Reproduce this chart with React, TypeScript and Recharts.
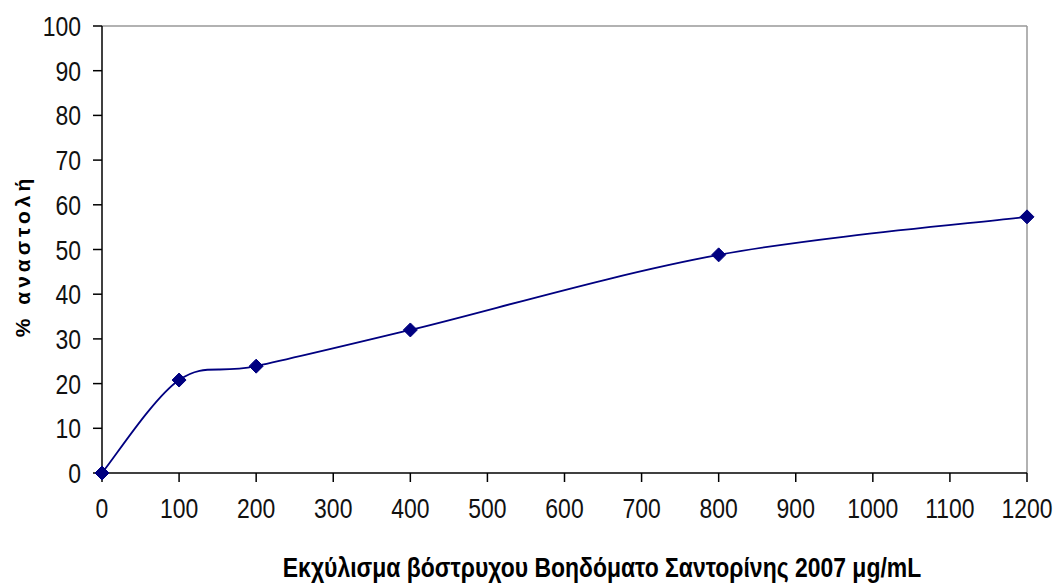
import React from 'react'
import { LineChart, Line, XAxis, YAxis, ReferenceLine, Label } from 'recharts'

const doses = [0, 100, 200, 400, 800, 1200]
const inhibition = [0, 20.8, 23.9, 32.0, 48.8, 57.3]
const xTicks = [0, 100, 200, 300, 400, 500, 600, 700, 800, 900, 1000, 1100, 1200]
const yTicks = [0, 10, 20, 30, 40, 50, 60, 70, 80, 90, 100]

const xTitle = 'Εκχύλισμα βόστρυχου Βοηδόματο Σαντορίνης 2007 μg/mL'
const yTitle = '% αναστολή'

const data = doses.map((d, i) => ({ dose: d, value: inhibition[i] }))

// no narrow font installed, so squeeze Liberation Sans instead
const FONT = '"Liberation Sans", Arial, sans-serif'
const NAVY = '#000080'

// excel-like smoothed line (catmull-rom through the points)
const excelCurve = (context: any) => {
	let pts: number[][] = []
	return {
		areaStart() {},
		areaEnd() {},
		lineStart() { pts = [] },
		point(x: number, y: number) { pts.push([+x, +y]) },
		lineEnd() {
			if (!pts.length) return
			context.moveTo(pts[0][0], pts[0][1])
			for (let i = 0; i < pts.length - 1; i++) {
				const p0 = pts[Math.max(i - 1, 0)]
				const p1 = pts[i]
				const p2 = pts[i + 1]
				const p3 = pts[Math.min(i + 2, pts.length - 1)]
				context.bezierCurveTo(
					p1[0] + (p2[0] - p0[0]) / 6, p1[1] + (p2[1] - p0[1]) / 6,
					p2[0] - (p3[0] - p1[0]) / 6, p2[1] - (p3[1] - p1[1]) / 6,
					p2[0], p2[1]
				)
			}
		},
	}
}

const Diamond = (props: any) => {
	const { cx, cy } = props
	if (cx == null || cy == null) return null
	const r = 7
	return <polygon points={`${cx},${cy - r} ${cx + r},${cy} ${cx},${cy + r} ${cx - r},${cy}`} fill={NAVY} stroke={NAVY} />
}

const XTick = (props: any) => {
	const { x, y, payload } = props
	return (
		<text transform={`translate(${x},${y + 34}) scale(0.82,1)`} textAnchor="middle" fontSize={28} fontFamily={FONT} fill="#111">
			{payload.value}
		</text>
	)
}

const YTick = (props: any) => {
	const { x, y, payload } = props
	return (
		<text transform={`translate(${x - 10},${y + 10}) scale(0.82,1)`} textAnchor="end" fontSize={28} fontFamily={FONT} fill="#111">
			{payload.value}
		</text>
	)
}

export default () => (
	<div style={{ position: 'absolute', left: 0, top: 0 }}>
		<LineChart width={1053} height={585} data={data} margin={{ top: 26, right: 26, left: 22, bottom: 62 }}>
			<XAxis
				dataKey="dose"
				type="number"
				domain={[0, 1200]}
				ticks={xTicks}
				interval={0}
				height={50}
				stroke="#000"
				strokeWidth={1.5}
				tickSize={9}
				tick={<XTick />}
			>
				<Label
					content={() => (
						<text
							transform="translate(602,577) scale(0.85,1)"
							textAnchor="middle"
							fontSize={27}
							fontWeight="bold"
							fontFamily={FONT}
							fill="#000"
						>
							{xTitle}
						</text>
					)}
				/>
			</XAxis>
			<YAxis
				type="number"
				domain={[0, 100]}
				ticks={yTicks}
				interval={0}
				width={80}
				stroke="#000"
				strokeWidth={1.5}
				tickSize={9}
				tick={<YTick />}
			>
				<Label
					content={() => (
						<text
							transform="translate(30,256) rotate(-90)"
							textAnchor="middle"
							fontSize={21}
							fontWeight="bold"
							letterSpacing={4}
							fontFamily={FONT}
							fill="#000"
						>
							{yTitle}
						</text>
					)}
				/>
			</YAxis>
			<ReferenceLine y={100} stroke="#999" strokeWidth={1.5} />
			<ReferenceLine x={1200} stroke="#999" strokeWidth={1.5} />
			<Line
				dataKey="value"
				type={excelCurve as any}
				stroke={NAVY}
				strokeWidth={1.8}
				dot={<Diamond />}
				activeDot={false}
				isAnimationActive={false}
			/>
		</LineChart>
	</div>
)
